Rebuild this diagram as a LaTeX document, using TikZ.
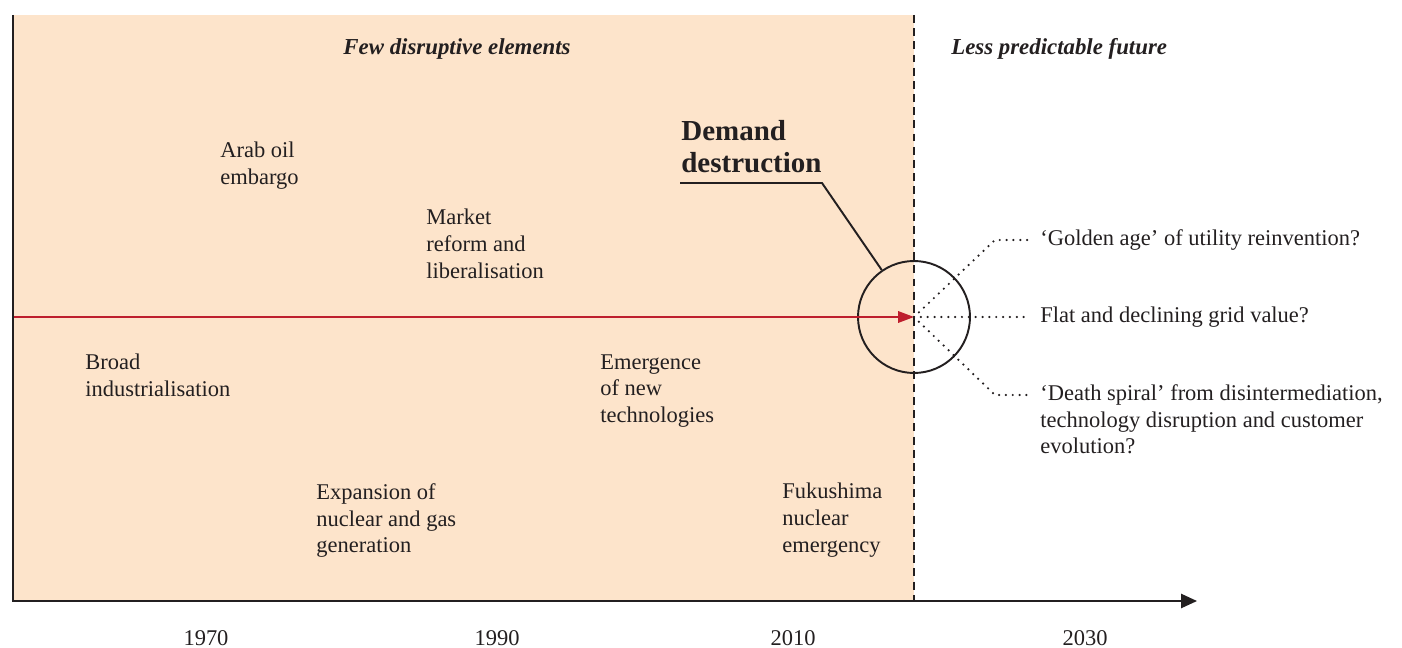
\documentclass[tikz,border=0pt]{standalone}
\usepackage{fontspec}
\setmainfont{Liberation Serif}
\usetikzlibrary{arrows.meta}
\definecolor{bg}{RGB}{253,228,203}
\definecolor{ink}{RGB}{35,31,32}
\definecolor{arrowred}{RGB}{190,30,45}

\begin{document}
\begin{tikzpicture}[x=0.02cm, y=-0.02cm, font=\fontsize{12.8}{15.3}\selectfont, text=ink,
  event/.style={anchor=north west, inner sep=0pt, align=left},
  outcome/.style={anchor=west, inner sep=0pt, align=left},
  heading/.style={inner sep=0pt, font=\fontsize{13}{15.3}\selectfont\bfseries\itshape},
  branch/.style={draw=ink, line width=1.4pt, dash pattern=on 0pt off 3.9pt, line cap=round, shorten >=0.2cm}]
  \useasboundingbox (0,0) rectangle (1402,648);
  \fill[bg] (13,15) rectangle (914,601);

  \coordinate (top) at (13,15);
  \coordinate (o) at (13,601);
  \coordinate (xend) at (1197,601);
  \coordinate (now) at (914,15);
  \coordinate (nowbot) at (914,601);
  \coordinate (start) at (13,317);

  \node[circle, draw=ink, line width=1.1pt, minimum size=2.24cm, inner sep=0pt] (hub) at (914,317) {};
  \draw[arrowred, line width=1pt, -{Triangle[length=9pt,width=6.5pt]}] (start) -- (hub.center);
  \draw[ink, line width=1.2pt, dash pattern=on 4.5pt off 3pt] (now) -- (nowbot);
  \draw[ink, line width=1.1pt, -{Triangle[length=9pt,width=8pt]}] (top) -- (o) -- (xend);

  \node[heading] (few) at (457,49) {Few disruptive elements};
  \node[heading, anchor=west] (less) at (951,49) {Less predictable future};

  \node[event] (arab) at (220,142) {Arab oil\\embargo};
  \node[event] (market) at (426,209) {Market\\reform and\\liberalisation};
  \node[event] (broad) at (85,354) {Broad\\industrialisation};
  \node[event] (emerg) at (600,354) {Emergence\\of new\\technologies};
  \node[event] (expan) at (316,483) {Expansion of\\nuclear and gas\\generation};
  \node[event] (fuku) at (782,483) {Fukushima\\nuclear\\emergency};
  \node[event, font=\fontsize{16.5}{18.2}\selectfont\bfseries] (demand) at (681,120) {Demand\\destruction};

  \coordinate (ul1) at (680,183);
  \coordinate (ul2) at (822,183);
  \draw[ink, line width=1.1pt] (ul1) -- (ul2) -- (hub);

  \node[outcome] (o1) at (1040,240) {`Golden age' of utility reinvention?};
  \node[outcome] (o2) at (1040,317) {Flat and declining grid value?};
  \node[event] (o3) at (1040,384) {`Death spiral' from disintermediation,\\technology disruption and customer\\evolution?};

  \coordinate (b1) at (995,240);
  \coordinate (b3) at (995,395);
  \draw[branch] (hub.center) -- (b1) -- (b1 -| o1.west);
  \draw[branch] (hub.center) -- (o2.west);
  \draw[branch] (hub.center) -- (b3) -- (b3 -| o3.west);

  \foreach \yr/\x in {1970/206,1990/497,2010/793,2030/1085}
    \node (y\yr) at (\x,638) {\yr};
\end{tikzpicture}
\end{document}
